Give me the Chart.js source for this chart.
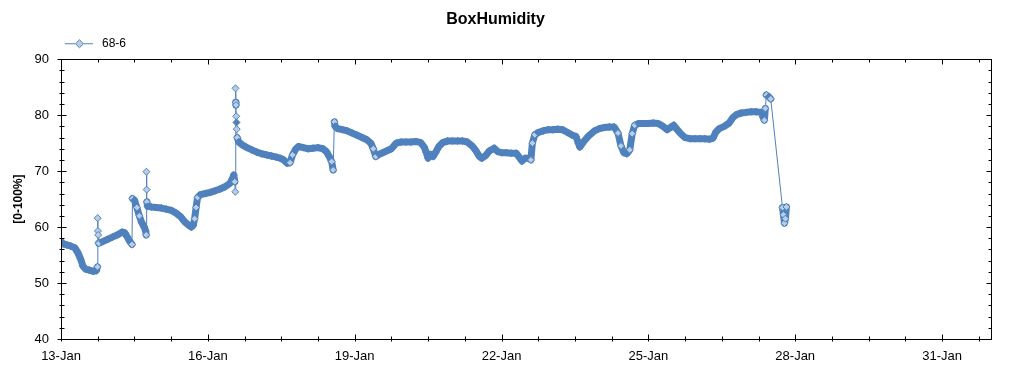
<!DOCTYPE html>
<html><head><meta charset="utf-8">
<script src="https://cdn.jsdelivr.net/npm/chart.js@4.4.1/dist/chart.umd.min.js"></script>
<style>html,body{margin:0;padding:0;background:#fff;overflow:hidden}#wrap{width:1024px;height:375px}</style>
</head><body><div id="wrap"><canvas id="c" width="1024" height="375"></canvas></div>
<script>
// ---- data ----
const chartTitle = 'BoxHumidity';
const seriesName = '68-6';
const yTitle = '[0-100%]';
const startDay = 13;           // 13-Jan
const monthLabel = 'Jan';
// time in days since 13-Jan 00:00
const days = [
 0.00,0.05,0.12,0.20,0.28,0.34,0.40,0.45,0.50,0.58,0.66,0.72,0.745,0.75,0.755,0.76,0.77,0.85,0.95,
 1.05,1.15,1.25,1.30,1.35,1.40,1.45,1.46,1.50,1.55,1.60,1.65,1.70,1.73,1.74,1.745,1.75,1.755,1.77,1.85,1.95,
 2.05,2.15,2.25,2.35,2.45,2.52,2.60,2.66,2.70,2.73,2.76,2.79,2.85,2.95,
 3.05,3.15,3.25,3.35,3.45,3.50,3.53,3.55,3.56,3.565,3.57,3.575,3.58,3.585,3.59,3.60,3.63,3.70,3.80,3.90,
 4.00,4.10,4.20,4.30,4.40,4.48,4.55,4.62,4.68,4.73,4.80,4.85,4.95,
 5.05,5.15,5.25,5.35,5.42,5.48,5.53,5.56,5.585,5.60,5.65,5.75,5.85,5.95,
 6.05,6.15,6.25,6.33,6.38,6.43,6.50,6.55,6.65,6.75,6.85,6.95,
 7.05,7.15,7.25,7.35,7.42,7.46,7.50,7.55,7.60,7.65,7.72,7.80,7.90,
 8.00,8.10,8.20,8.30,8.40,8.48,8.55,8.60,8.68,8.75,8.85,8.92,
 9.00,9.10,9.20,9.30,9.36,9.42,9.48,9.55,9.60,9.63,9.68,9.75,9.85,9.95,
 10.05,10.15,10.25,10.35,10.45,10.52,10.57,10.60,10.68,10.78,10.90,
 11.00,11.10,11.20,11.30,11.38,11.44,11.50,11.56,11.62,11.67,11.72,11.80,11.90,
 12.00,12.10,12.20,12.30,12.38,12.45,12.52,12.58,12.66,12.75,12.85,12.95,
 13.05,13.15,13.25,13.32,13.38,13.45,13.55,13.65,13.72,13.80,13.90,
 14.00,14.10,14.20,14.30,14.35,14.37,14.39,14.41,14.46,14.50,14.74,14.76,14.78,14.80,14.82
];
const humidity = [
 57.4,57.0,56.8,56.6,56.3,55.5,54.3,53.0,52.5,52.3,52.1,52.2,52.9,61.6,59.3,58.6,57.1,57.4,57.8,
 58.2,58.6,59.1,59.0,58.3,57.5,56.9,65.1,64.8,63.5,62.0,60.8,60.0,59.3,58.6,69.9,66.7,64.5,63.7,63.6,63.5,
 63.4,63.2,63.0,62.5,61.8,61.0,60.4,60.0,60.3,61.5,63.5,65.3,65.8,66.0,
 66.2,66.5,66.8,67.2,67.8,68.6,69.3,68.1,66.3,84.8,82.3,81.8,79.8,78.7,77.5,76.0,75.2,74.7,74.2,73.8,
 73.4,73.1,72.9,72.7,72.5,72.3,72.0,71.4,71.5,72.9,74.0,74.4,74.2,
 74.0,74.1,74.2,74.0,73.5,72.6,71.7,70.2,78.8,78.0,77.6,77.4,77.2,76.8,
 76.4,76.0,75.6,75.0,74.0,72.6,73.0,73.2,73.6,74.0,75.0,75.2,
 75.2,75.2,75.3,75.1,74.3,73.4,72.3,73.0,72.6,73.3,74.4,75.1,75.4,
 75.4,75.4,75.4,75.2,74.5,73.6,72.6,72.3,72.8,73.6,74.1,73.5,
 73.3,73.3,73.2,73.2,72.5,71.8,72.3,72.3,72.0,75.0,76.5,76.9,77.2,77.4,
 77.4,77.5,77.4,76.9,76.4,76.2,75.0,74.3,75.3,76.3,77.2,
 77.6,77.8,77.9,77.9,76.8,74.5,73.3,73.1,73.8,76.7,78.2,78.5,78.5,
 78.5,78.6,78.5,78.0,77.4,77.8,78.2,77.5,76.7,76.0,75.8,75.8,
 75.8,75.8,75.7,75.9,77.0,77.6,78.0,78.6,79.5,80.1,80.4,
 80.5,80.6,80.6,80.5,79.5,79.1,81.2,83.6,83.3,82.9,63.5,62.2,60.7,61.5,63.6
];
const xMin = 0, xMax = 19, xMajorStep = 3, xMinorStep = 0.75;
const yMin = 40, yMax = 90, yMajorStep = 10, yMinorStep = 2;

// ---- styles ----
const LINE = '#4f81bd';
const FILL = '#b9cde5';
const FONT = "'Liberation Sans', Arial, sans-serif";
Chart.defaults.font.family = FONT;
Chart.defaults.color = '#000';

function legendIcon() {
  const c = document.createElement('canvas');
  c.width = 91; c.height = 12;
  const g = c.getContext('2d');
  g.strokeStyle = LINE; g.lineWidth = 1;
  g.beginPath(); g.moveTo(60, 6.5); g.lineTo(88, 6.5); g.stroke();
  g.beginPath(); g.moveTo(74.5, 2.5); g.lineTo(78.5, 6.5); g.lineTo(74.5, 10.5); g.lineTo(70.5, 6.5); g.closePath();
  g.fillStyle = FILL; g.fill(); g.stroke();
  return c;
}

const points = days.map((d, i) => ({x: d, y: humidity[i]}));

// a sample far from its neighbours shows its light marker fill
function isolated(i) {
  const v = humidity[i];
  const p = i > 0 ? Math.abs(v - humidity[i - 1]) : 0;
  const n = i < humidity.length - 1 ? Math.abs(v - humidity[i + 1]) : 0;
  return Math.max(p, n) > 1.4;
}
// dense stretches of samples merge into a solid band
function denseSegment(i0, i1) {
  const dv = Math.abs(humidity[i1] - humidity[i0]);
  const dt = Math.max(days[i1] - days[i0], 1e-6);
  return dv < 3.5 && dv / dt < 110;
}

const axisFrame = {
  id: 'axisFrame',
  afterDraw(chart) {
    const {ctx, chartArea: a, scales: {x, y}} = chart;
    const L = Math.round(a.left) + 0.5, R = Math.round(a.right) + 0.5;
    const T = Math.round(a.top) + 0.5, B = Math.round(a.bottom) + 0.5;
    ctx.save();
    ctx.strokeStyle = '#000'; ctx.lineWidth = 1;
    ctx.strokeRect(L, T, R - L, B - T);
    ctx.beginPath();
    for (let v = xMin; v <= xMax + 1e-9; v += xMinorStep) {
      const major = Math.abs(v / xMajorStep - Math.round(v / xMajorStep)) < 1e-6;
      const px = Math.round(x.getPixelForValue(v)) + 0.5;
      const inn = major ? 5 : 3, out = 2;
      ctx.moveTo(px, B + out); ctx.lineTo(px, B - inn);
      ctx.moveTo(px, T); ctx.lineTo(px, T + inn);
    }
    for (let v = yMin; v <= yMax + 1e-9; v += yMinorStep) {
      const major = v % yMajorStep === 0;
      const py = Math.round(y.getPixelForValue(v)) + 0.5;
      const inn = major ? 5 : 3, out = major ? 4 : 2;
      ctx.moveTo(L - out, py); ctx.lineTo(L + inn, py);
      ctx.moveTo(R - inn, py); ctx.lineTo(R, py);
    }
    ctx.stroke();
    ctx.restore();
  }
};

new Chart(document.getElementById('c'), {
  type: 'line',
  data: {
    datasets: [{
      label: seriesName,
      data: points,
      borderColor: LINE,
      borderWidth: 1,
      tension: 0,
      pointStyle: 'rectRot',
      pointRadius: 3.5,
      pointBorderWidth: 1,
      pointBorderColor: LINE,
      pointBackgroundColor: ctx => (ctx.dataIndex !== undefined && isolated(ctx.dataIndex)) ? FILL : LINE,
      fill: false
    }, {
      label: seriesName + ' band',
      data: points,
      borderColor: LINE,
      borderWidth: 7,
      borderJoinStyle: 'round',
      borderCapStyle: 'round',
      tension: 0,
      pointRadius: 0,
      fill: false,
      segment: {
        borderColor: ctx => denseSegment(ctx.p0DataIndex, ctx.p1DataIndex) ? LINE : 'rgba(0,0,0,0)'
      }
    }]
  },
  options: {
    responsive: false,
    animation: false,
    devicePixelRatio: 1,
    layout: {padding: {top: 6, left: 0, right: 33, bottom: 0}},
    plugins: {
      title: {display: true, text: chartTitle, color: '#000',
        font: {size: 16, weight: 'bold', family: FONT}, padding: {top: 4, bottom: 3}},
      legend: {
        display: true, position: 'top', align: 'start',
        labels: {
          usePointStyle: true, pointStyleWidth: 91, padding: 5,
          font: {size: 12, family: FONT}, color: '#000',
          generateLabels: () => [{text: seriesName, pointStyle: legendIcon(), datasetIndex: 0,
            fillStyle: FILL, strokeStyle: LINE, lineWidth: 0, hidden: false}]
        }
      },
      tooltip: {enabled: false}
    },
    scales: {
      x: {
        type: 'linear', min: xMin, max: xMax,
        grid: {display: false, drawTicks: true, tickLength: 4},
        border: {display: false},
        ticks: {stepSize: xMajorStep, includeBounds: false, autoSkip: false, maxRotation: 0,
          padding: 6, font: {size: 13, family: FONT}, color: '#000',
          callback: v => (startDay + v) + '-' + monthLabel},
        afterFit: s => { s.height = 36; }
      },
      y: {
        type: 'linear', min: yMin, max: yMax,
        grid: {display: false, drawTicks: true, tickLength: 4},
        border: {display: false},
        ticks: {stepSize: yMajorStep, padding: 8, font: {size: 13, family: FONT}, color: '#000'},
        title: {display: true, text: yTitle, color: '#000', font: {size: 12, weight: 'bold', family: FONT},
          padding: {top: 11, bottom: 0}},
        afterFit: s => { s.width = 61; }
      }
    }
  },
  plugins: [axisFrame]
});
</script></body></html>
